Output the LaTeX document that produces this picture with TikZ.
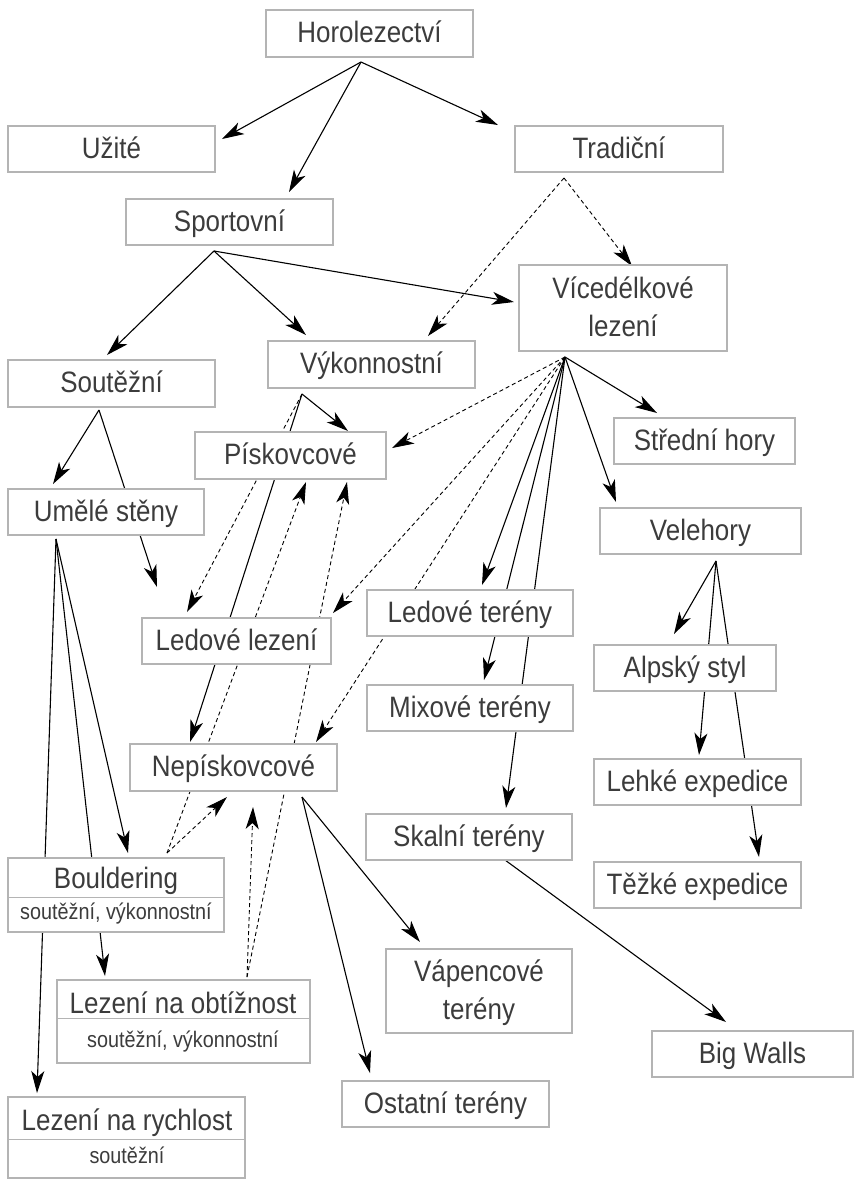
\documentclass[tikz,border=0pt]{standalone}
\usepackage{fontspec}
\setmainfont{Liberation Sans}[FakeStretch=0.88]
\usetikzlibrary{arrows.meta,backgrounds}
\definecolor{boxgray}{HTML}{B4B4B4}
\definecolor{txtgray}{HTML}{3C3C3C}
\begin{document}
\begin{tikzpicture}[x=1pt,y=-1pt,
  box/.style={draw=boxgray, line width=1.2pt, fill=white, inner sep=0pt, text=txtgray,
    font=\fontsize{29.5}{38}\selectfont, text height=22pt, text depth=4pt},
  twobox/.style={box, align=center, text height=60pt, text depth=4pt},
  emptybox/.style={draw=boxgray, line width=1.2pt, fill=white, inner sep=0pt},
  txt/.style={inner sep=0pt, text=txtgray, font=\fontsize{29.5}{38}\selectfont, anchor=base},
  subtxt/.style={inner sep=0pt, text=txtgray, font=\fontsize{22.5}{27}\selectfont, anchor=base},
  divline/.style={draw=boxgray, line width=1.2pt},
  arr/.style={line width=1.1pt, -{Stealth[length=22pt,width=13pt,inset=6pt]}},
  darr/.style={arr, line width=0.9pt, dash pattern=on 4pt off 3pt}]
\useasboundingbox (0,0) rectangle (854,1179);

% boxes
\node[box, minimum width=207pt, minimum height=47pt] (horo) at (369.5,33.5) {Horolezectví};
\node[box, minimum width=207pt, minimum height=46pt] (uzite) at (111.5,149) {Užité};
\node[box, minimum width=208pt, minimum height=46pt] (tradi) at (619,149) {Tradiční};
\node[box, minimum width=207pt, minimum height=46pt] (sport) at (229.5,222) {Sportovní};
\node[twobox, minimum width=208pt, minimum height=86pt] (vice) at (623,308) {Vícedélkové\\lezení};
\node[box, minimum width=207pt, minimum height=47pt] (soutez) at (111.5,383.5) {Soutěžní};
\node[box, minimum width=207pt, minimum height=47pt] (vykon) at (371.5,364.5) {Výkonnostní};
\node[box, minimum width=191pt, minimum height=47pt] (pisk) at (290.5,455.5) {Pískovcové};
\node[box, minimum width=196pt, minimum height=46pt] (umele) at (106,512) {Umělé stěny};
\node[box, minimum width=181pt, minimum height=46pt] (stredni) at (704.5,441) {Střední hory};
\node[box, minimum width=201pt, minimum height=46pt] (vele) at (700.5,531) {Velehory};
\node[box, minimum width=189pt, minimum height=46pt] (ledlez) at (236.5,641) {Ledové lezení};
\node[box, minimum width=206pt, minimum height=46pt] (ledter) at (470,613) {Ledové terény};
\node[box, minimum width=206pt, minimum height=46pt] (mix) at (470,708) {Mixové terény};
\node[box, minimum width=182pt, minimum height=46pt] (alp) at (685,668) {Alpský styl};
\node[box, minimum width=207pt, minimum height=47pt] (nepisk) at (233.5,767.5) {Nepískovcové};
\node[box, minimum width=206pt, minimum height=46pt] (skal) at (469,837) {Skalní terény};
\node[box, minimum width=207pt, minimum height=46pt] (lehke) at (697.5,782) {Lehké expedice};
\node[box, minimum width=207pt, minimum height=46pt] (tezke) at (697.5,885) {Těžké expedice};
\node[twobox, minimum width=186pt, minimum height=84pt] (vapen) at (479,991) {Vápencové\\terény};
\node[box, minimum width=207pt, minimum height=46pt] (ostat) at (445.5,1104) {Ostatní terény};
\node[box, minimum width=201pt, minimum height=46pt] (big) at (752.5,1054) {Big Walls};

% two-part boxes
\node[emptybox, minimum width=216pt, minimum height=74pt] (boulder) at (116,895) {};
\draw[divline] ([yshift=-40pt]boulder.north west) -- ([yshift=-40pt]boulder.north east);
\node[txt] (boulder-a) at (116,888) {Bouldering};
\node[subtxt] (boulder-b) at (116,919) {soutěžní, výkonnostní};

\node[emptybox, minimum width=253pt, minimum height=83pt] (obtiz) at (183.5,1021.5) {};
\draw[divline] ([yshift=-39pt]obtiz.north west) -- ([yshift=-39pt]obtiz.north east);
\node[txt] (obtiz-a) at (183,1013) {Lezení na obtížnost};
\node[subtxt] (obtiz-b) at (183,1047) {soutěžní, výkonnostní};

\node[emptybox, minimum width=237pt, minimum height=81pt] (rychl) at (126.5,1137.5) {};
\draw[divline] ([yshift=-43pt]rychl.north west) -- ([yshift=-43pt]rychl.north east);
\node[txt] (rychl-a) at (127,1130) {Lezení na rychlost};
\node[subtxt] (rychl-b) at (127,1163) {soutěžní};

% fan origins
\coordinate (horoS) at (361,62);
\coordinate (tradS) at (564,178);
\coordinate (sportS) at (214,251);
\coordinate (soutS) at (99,410);
\coordinate (vykS) at (302,394);
\coordinate (viceS) at (565,357);
\coordinate (veleS) at (716,561);
\coordinate (umelS) at (56,539);
\coordinate (nepS) at (302,797);
\coordinate (skalS) at (505,860);
\coordinate (boulS) at (167,853);
\coordinate (obtS) at (247,977);

% arrow targets
\coordinate (uzite-in) at (222,139);
\coordinate (sport-in) at (289,192);
\coordinate (tradi-in) at (498,125);
\coordinate (vice-in1) at (632,266);
\coordinate (vice-in2) at (514,302);
\coordinate (vykon-in1) at (428,336);
\coordinate (vykon-in2) at (306,335);
\coordinate (soutez-in) at (107,355);
\coordinate (umele-in) at (53,484);
\coordinate (ledlez-in1) at (157,587);
\coordinate (ledlez-in2) at (187,612);
\coordinate (ledlez-in3) at (333,613);
\coordinate (pisk-in1) at (348,431);
\coordinate (pisk-in2) at (306,482);
\coordinate (pisk-in3) at (347,482);
\coordinate (pisk-in4) at (392,448);
\coordinate (nepisk-in1) at (190,742);
\coordinate (nepisk-in2) at (227,797);
\coordinate (nepisk-in3) at (253,807);
\coordinate (nepisk-in4) at (316,742);
\coordinate (ledter-in) at (482,585);
\coordinate (mix-in) at (484,680);
\coordinate (skal-in) at (506,808);
\coordinate (vele-in) at (616,502);
\coordinate (stredni-in) at (657,413);
\coordinate (alp-in) at (674,634);
\coordinate (lehke-in) at (699,755);
\coordinate (tezke-in) at (759,857);
\coordinate (boulder-in) at (128,853);
\coordinate (obtiz-in) at (105,976);
\coordinate (rychl-in) at (37,1093);
\coordinate (vapen-in) at (420,942);
\coordinate (ostat-in) at (370,1073);
\coordinate (big-in) at (726,1022);

\begin{pgfonlayer}{background}
\fill[white] (0,0) rectangle (854,1179);
\draw[arr] (horoS) -- (uzite-in);
\draw[arr] (horoS) -- (sport-in);
\draw[arr] (horoS) -- (tradi-in);
\draw[darr] (tradS) -- (vice-in1);
\draw[darr] (tradS) -- (vykon-in1);
\draw[arr] (sportS) -- (soutez-in);
\draw[arr] (sportS) -- (vykon-in2);
\draw[arr] (sportS) -- (vice-in2);
\draw[arr] (soutS) -- (umele-in);
\draw[arr] (soutS) -- (ledlez-in1);
\draw[arr] (vykS) -- (pisk-in1);
\draw[arr] (vykS) -- (nepisk-in1);
\draw[darr] (vykS) -- (ledlez-in2);
\draw[darr] (boulS) -- (pisk-in2);
\draw[darr] (boulS) -- (nepisk-in2);
\draw[darr] (obtS) -- (pisk-in3);
\draw[darr] (obtS) -- (nepisk-in3);
\draw[darr] (viceS) -- (pisk-in4);
\draw[darr] (viceS) -- (ledlez-in3);
\draw[darr] (viceS) -- (nepisk-in4);
\draw[arr] (viceS) -- (ledter-in);
\draw[arr] (viceS) -- (mix-in);
\draw[arr] (viceS) -- (skal-in);
\draw[arr] (viceS) -- (vele-in);
\draw[arr] (viceS) -- (stredni-in);
\draw[arr] (veleS) -- (alp-in);
\draw[arr] (veleS) -- (lehke-in);
\draw[arr] (veleS) -- (tezke-in);
\draw[arr] (umelS) -- (boulder-in);
\draw[arr] (umelS) -- (obtiz-in);
\draw[arr] (umelS) -- (rychl-in);
\draw[arr] (nepS) -- (vapen-in);
\draw[arr] (nepS) -- (ostat-in);
\draw[arr] (skalS) -- (big-in);
\end{pgfonlayer}
\end{tikzpicture}
\end{document}
